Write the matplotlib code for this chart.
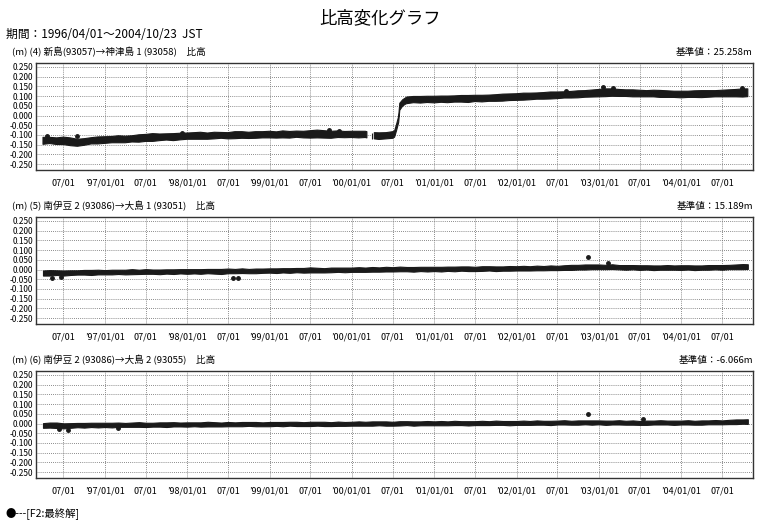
import numpy as np
import pandas as pd
import matplotlib
matplotlib.use("Agg")
import matplotlib.pyplot as plt

plt.rcParams['font.family'] = ['Noto Sans CJK JP', 'DejaVu Sans']

### Data (monthly band centre and half width) ###
months = list(pd.date_range("1996-04-01", "2004-10-01", freq="MS")) + [pd.Timestamp("2004-10-23")]

# (4) 新島 -> 神津島1, monthly before/after the 2000 jump
s1_mid = [
    -0.130, -0.128, -0.132, -0.130, -0.135, -0.140, -0.136, -0.130, -0.128,
    -0.126, -0.124, -0.122, -0.123, -0.120, -0.118, -0.115, -0.113, -0.112, -0.110, -0.111, -0.108,
    -0.106, -0.105, -0.104, -0.106, -0.103, -0.102, -0.104, -0.101, -0.100, -0.102, -0.100, -0.099,
    -0.098, -0.100, -0.097, -0.099, -0.096, -0.098, -0.097, -0.095, -0.097, -0.099, -0.096, -0.098,
    -0.097, -0.098, -0.097, -0.104, -0.106, -0.104, -0.100, 0.045, 0.078, 0.082, 0.081, 0.083,
    0.082, 0.084, 0.083, 0.085, 0.086, 0.085, 0.088, 0.087, 0.089, 0.090, 0.092, 0.094,
    0.095, 0.097, 0.098, 0.100, 0.101, 0.103, 0.104, 0.106, 0.107, 0.109, 0.111, 0.113,
    0.115, 0.117, 0.118, 0.116, 0.115, 0.114, 0.113, 0.112, 0.113, 0.111, 0.110, 0.109,
    0.108, 0.109, 0.110, 0.110, 0.111, 0.112, 0.113, 0.114, 0.115, 0.116, 0.117,
]
s1_half = [
    0.018, 0.016, 0.017, 0.019, 0.020, 0.018, 0.017, 0.016, 0.018,
    0.017, 0.016, 0.018, 0.017, 0.016, 0.019, 0.018, 0.020, 0.017, 0.016, 0.018, 0.017,
    0.016, 0.017, 0.018, 0.016, 0.017, 0.015, 0.016, 0.018, 0.017, 0.016, 0.017, 0.016,
    0.017, 0.016, 0.018, 0.017, 0.016, 0.017, 0.019, 0.020, 0.019, 0.018, 0.017, 0.016,
    0.016, 0.017, 0.016, 0.016, 0.017, 0.016, 0.017, 0.018, 0.017, 0.016, 0.017, 0.016,
    0.017, 0.016, 0.017, 0.016, 0.017, 0.018, 0.016, 0.017, 0.016, 0.017, 0.018, 0.017,
    0.017, 0.018, 0.017, 0.016, 0.017, 0.018, 0.017, 0.016, 0.017, 0.018, 0.017, 0.018,
    0.019, 0.020, 0.019, 0.018, 0.017, 0.018, 0.017, 0.016, 0.017, 0.018, 0.017, 0.016,
    0.017, 0.016, 0.017, 0.018, 0.017, 0.016, 0.017, 0.018, 0.019, 0.021, 0.020,
]
# extra points for the data gap and the July 2000 jump
s1_extra_dates = ["2000-03-08", "2000-03-09", "2000-04-09", "2000-04-10",
                  "2000-07-09", "2000-07-18", "2000-07-27",
                  "2000-08-14", "2000-08-27"]
s1_extra_mid = [-0.099, np.nan, np.nan, -0.104, -0.095, -0.060, -0.020, 0.065, 0.075]
s1_extra_half = [0.016, 0.016, 0.016, 0.016, 0.016, 0.016, 0.016, 0.016, 0.016]

# (5) 南伊豆2 -> 大島1
s2_mid = [
    -0.018, -0.017, -0.016, -0.018, -0.016, -0.015, -0.014, -0.015, -0.013,
    -0.014, -0.013, -0.012, -0.013, -0.011, -0.012, -0.010, -0.011, -0.012, -0.010, -0.011, -0.009,
    -0.010, -0.009, -0.010, -0.008, -0.009, -0.010, -0.007, -0.008, -0.006, -0.008, -0.007, -0.006,
    -0.005, -0.006, -0.004, -0.005, -0.003, -0.004, -0.002, -0.003, -0.004, -0.002, -0.001, -0.002,
    -0.001, 0.000, -0.001, 0.001, 0.000, 0.002, 0.001, 0.003, 0.002, 0.001, 0.003, 0.002,
    0.003, 0.002, 0.004, 0.003, 0.005, 0.004, 0.003, 0.005, 0.006, 0.004, 0.005, 0.006,
    0.006, 0.007, 0.006, 0.008, 0.007, 0.009, 0.008, 0.010, 0.011, 0.012, 0.013, 0.014,
    0.014, 0.013, 0.015, 0.012, 0.011, 0.012, 0.010, 0.011, 0.009, 0.010, 0.011, 0.010,
    0.010, 0.011, 0.009, 0.010, 0.011, 0.012, 0.011, 0.013, 0.014, 0.015, 0.015,
]
s2_half = [
    0.013, 0.014, 0.012, 0.013, 0.012, 0.011, 0.012, 0.013, 0.012,
    0.011, 0.012, 0.011, 0.012, 0.013, 0.011, 0.012, 0.011, 0.012, 0.011, 0.012, 0.011,
    0.012, 0.011, 0.012, 0.011, 0.012, 0.013, 0.012, 0.011, 0.012, 0.011, 0.012, 0.011,
    0.011, 0.012, 0.011, 0.012, 0.011, 0.012, 0.013, 0.012, 0.011, 0.012, 0.011, 0.012,
    0.011, 0.012, 0.011, 0.012, 0.011, 0.012, 0.011, 0.012, 0.011, 0.012, 0.011, 0.012,
    0.011, 0.012, 0.011, 0.012, 0.011, 0.012, 0.011, 0.012, 0.011, 0.012, 0.011, 0.012,
    0.011, 0.012, 0.011, 0.012, 0.011, 0.012, 0.011, 0.012, 0.013, 0.012, 0.013, 0.012,
    0.012, 0.011, 0.012, 0.011, 0.012, 0.011, 0.012, 0.011, 0.012, 0.011, 0.012, 0.011,
    0.012, 0.011, 0.012, 0.011, 0.012, 0.011, 0.012, 0.011, 0.012, 0.013, 0.012,
]

# (6) 南伊豆2 -> 大島2
s3_mid = [
    -0.010, -0.008, -0.009, -0.012, -0.010, -0.008, -0.009, -0.007, -0.008,
    -0.007, -0.008, -0.006, -0.007, -0.006, -0.005, -0.007, -0.006, -0.005, -0.006, -0.004, -0.005,
    -0.005, -0.004, -0.005, -0.003, -0.004, -0.005, -0.003, -0.004, -0.003, -0.002, -0.003, -0.004,
    -0.003, -0.002, -0.003, -0.001, -0.002, -0.003, -0.002, -0.001, -0.002, -0.003, -0.001, -0.002,
    -0.001, 0.000, -0.001, 0.000, 0.001, 0.000, -0.001, 0.001, 0.002, 0.000, 0.001, 0.002,
    0.001, 0.002, 0.001, 0.003, 0.002, 0.001, 0.002, 0.003, 0.002, 0.004, 0.003, 0.002,
    0.003, 0.004, 0.003, 0.005, 0.004, 0.003, 0.005, 0.006, 0.004, 0.005, 0.006, 0.005,
    0.006, 0.004, 0.005, 0.006, 0.004, 0.005, 0.003, 0.004, 0.005, 0.006, 0.005, 0.004,
    0.005, 0.006, 0.004, 0.005, 0.006, 0.007, 0.006, 0.008, 0.009, 0.010, 0.010,
]
s3_half = [
    0.012, 0.013, 0.014, 0.013, 0.012, 0.011, 0.012, 0.011, 0.012,
    0.011, 0.012, 0.011, 0.010, 0.011, 0.012, 0.011, 0.010, 0.011, 0.012, 0.011, 0.010,
    0.011, 0.010, 0.011, 0.012, 0.011, 0.010, 0.011, 0.010, 0.011, 0.010, 0.011, 0.010,
    0.011, 0.010, 0.011, 0.010, 0.011, 0.010, 0.011, 0.010, 0.011, 0.010, 0.011, 0.010,
    0.010, 0.011, 0.010, 0.011, 0.010, 0.011, 0.010, 0.011, 0.010, 0.011, 0.010, 0.011,
    0.010, 0.011, 0.010, 0.011, 0.010, 0.011, 0.010, 0.011, 0.010, 0.011, 0.010, 0.011,
    0.010, 0.011, 0.010, 0.011, 0.010, 0.011, 0.010, 0.011, 0.010, 0.011, 0.010, 0.011,
    0.010, 0.011, 0.010, 0.011, 0.010, 0.011, 0.010, 0.011, 0.010, 0.011, 0.010, 0.011,
    0.010, 0.011, 0.010, 0.011, 0.010, 0.011, 0.010, 0.011, 0.012, 0.011, 0.012,
]

# isolated points sticking out of the band
s1_out_dates = ["1996-04-18", "1996-08-31", "1997-12-10", "1999-09-20", "1999-11-05",
                "2002-08-10", "2003-01-20", "2003-03-05", "2004-09-25"]
s1_out_vals = [-0.105, -0.104, -0.088, -0.075, -0.078, 0.128, 0.145, 0.140, 0.140]
s2_out_dates = ["1996-05-10", "1996-06-20", "1998-07-25", "1998-08-12", "2002-11-15", "2003-02-10"]
s2_out_vals = [-0.045, -0.040, -0.045, -0.042, 0.062, 0.032]
s3_out_dates = ["1996-06-10", "1996-07-20", "1997-03-01", "2002-11-15", "2003-07-15"]
s3_out_vals = [-0.030, -0.035, -0.025, 0.048, 0.022]

headers = ["(m) (4) 新島(93057)→神津島 1 (93058)　比高",
           "(m) (5) 南伊豆 2 (93086)→大島 1 (93051)　比高",
           "(m) (6) 南伊豆 2 (93086)→大島 2 (93055)　比高"]
base_values = ["基準値：25.258m", "基準値：15.189m", "基準値：-6.066m"]

yticks = [0.25, 0.2, 0.15, 0.1, 0.05, 0.0, -0.05, -0.1, -0.15, -0.2, -0.25]
xticks = list(pd.date_range("1996-07-01", "2004-07-01", freq="6MS"))


def tick_label(d):
    if d.month == 1:
        return "’%02d/01/01" % (d.year % 100)
    return "07/01"


### Series assembly ###
s1 = pd.DataFrame({"mid": s1_mid, "half": s1_half}, index=pd.DatetimeIndex(months))
s1x = pd.DataFrame({"mid": s1_extra_mid, "half": s1_extra_half}, index=pd.to_datetime(s1_extra_dates))
s1 = pd.concat([s1, s1x]).sort_index()
s2 = pd.DataFrame({"mid": s2_mid, "half": s2_half}, index=pd.DatetimeIndex(months))
s3 = pd.DataFrame({"mid": s3_mid, "half": s3_half}, index=pd.DatetimeIndex(months))

series = [(s1, s1_out_dates, s1_out_vals),
          (s2, s2_out_dates, s2_out_vals),
          (s3, s3_out_dates, s3_out_vals)]

### Plot ###
W, H = 758, 522
fig = plt.figure(figsize=(W / 100, H / 100), dpi=100)
fig.text(380 / W, 1 - 18 / H, "比高変化グラフ", ha="center", va="center", fontsize=12.5)
fig.text(6 / W, 1 - 34 / H, "期間：1996/04/01～2004/10/23  JST", ha="left", va="center", fontsize=8.5)
fig.text(6 / W, 1 - 513 / H, "●---[F2:最終解]", ha="left", va="center", fontsize=7.5)

tops = [63, 217, 371]
left, right = 36, 753
for k, (df, od, ov) in enumerate(series):
    top = tops[k]
    ax = fig.add_axes([left / W, 1 - (top + 107) / H, (right - left) / W, 107 / H])
    lo = df["mid"] - df["half"]
    hi = df["mid"] + df["half"]
    ax.fill_between(df.index, lo, hi, color="#1a1a1a", lw=0.8, edgecolor="#1a1a1a", zorder=3)
    ax.plot(pd.to_datetime(od), ov, "o", color="#1a1a1a", ms=2.5, zorder=3)

    ax.set_xlim(pd.Timestamp("1996-03-01"), pd.Timestamp("2004-11-15"))
    ax.set_ylim(-0.28, 0.27)
    ax.set_yticks(yticks)
    ax.set_yticklabels(["%.3f" % v if v != 0 else "0.000" for v in yticks], fontsize=6)
    ax.set_xticks(xticks)
    ax.set_xticklabels([tick_label(d) for d in xticks], fontsize=6.5)
    ax.tick_params(length=0, pad=2)
    ax.tick_params(axis="x", pad=6)
    ax.grid(True, ls=(0, (1, 1.5)), lw=0.6, color="#666666")
    for sp in ax.spines.values():
        sp.set_color("#333333")
        sp.set_linewidth(1.0)

    fig.text(12 / W, 1 - (top - 11) / H, headers[k], ha="left", va="center", fontsize=6.9)
    fig.text(753 / W, 1 - (top - 11) / H, base_values[k], ha="right", va="center", fontsize=6.9)

fig.savefig("out.png", dpi=100)
